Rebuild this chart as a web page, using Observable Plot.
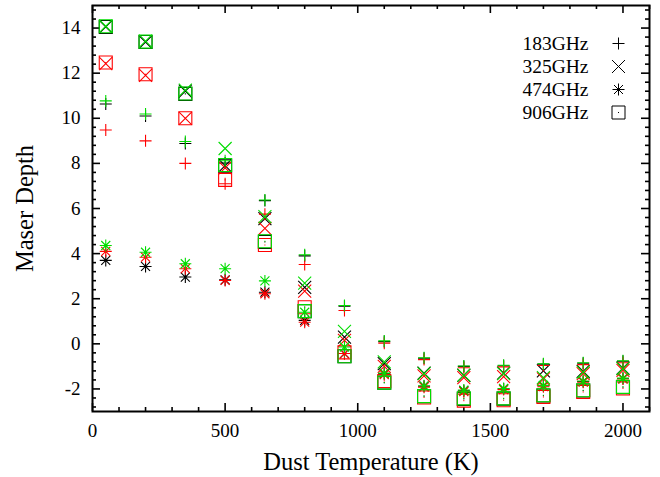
<!DOCTYPE html>
<html><head><meta charset="utf-8">
<script src="https://cdn.jsdelivr.net/npm/d3@7"></script>
<script src="https://cdn.jsdelivr.net/npm/@observablehq/plot@0.6"></script>
<style>body{margin:0;background:#fff} #chart svg{display:block}</style>
</head><body><div id="chart"></div>
<script>
// Dust temperatures (K)
const temperatures = [50, 200, 350, 500, 650, 800, 950, 1100, 1250, 1400, 1550, 1700, 1850, 2000];
const freqLabels = ["183GHz", "325GHz", "474GHz", "906GHz"];
const modelNames = ["black", "red", "green"];
const modelColors = ["#000000", "#ff0000", "#00dd00"];

// Maser depth — black series
const black183 = [10.63, 10.10, 8.88, 8.02, 6.35, 3.90, 1.67, 0.10, -0.64, -1.00, -0.97, -0.90, -0.86, -0.77];
const black325 = [14.05, 13.38, 11.20, 7.90, 5.55, 2.50, 0.30, -0.88, -1.30, -1.40, -1.30, -1.20, -1.22, -1.08];
const black474 = [3.70, 3.43, 2.96, 2.84, 2.29, 1.04, -0.43, -1.32, -1.88, -2.08, -2.00, -1.86, -1.67, -1.54];
const black906 = [14.05, 13.38, 11.08, 7.90, 4.52, 1.45, -0.55, -1.72, -2.32, -2.44, -2.43, -2.29, -2.07, -1.92];
// red series
const red183 = [9.48, 9.00, 8.00, 7.10, 5.75, 3.52, 1.48, 0.03, -0.70, -1.06, -1.02, -0.96, -0.92, -0.84];
const red325 = [12.42, 11.90, 10.00, 7.80, 5.12, 2.34, 0.15, -1.00, -1.42, -1.50, -1.45, -1.55, -1.32, -1.18];
const red474 = [4.10, 3.84, 3.33, 2.81, 2.22, 0.96, -0.43, -1.36, -1.92, -2.12, -2.03, -1.90, -1.70, -1.56];
const red906 = [12.47, 11.95, 10.00, 7.27, 4.38, 1.62, -0.38, -1.65, -2.38, -2.52, -2.50, -2.35, -2.13, -1.98];
// green series
const green183 = [10.77, 10.19, 8.97, 8.12, 6.38, 3.95, 1.70, 0.13, -0.62, -0.98, -0.95, -0.88, -0.84, -0.75];
const green325 = [14.08, 13.42, 11.25, 8.66, 5.64, 2.69, 0.55, -0.80, -1.32, -1.39, -1.32, -1.50, -1.25, -1.10];
const green474 = [4.36, 4.06, 3.55, 3.33, 2.79, 1.40, -0.14, -1.30, -1.86, -2.05, -1.98, -1.84, -1.65, -1.52];
const green906 = [14.08, 13.40, 11.10, 7.93, 4.55, 1.45, -0.55, -1.72, -2.32, -2.42, -2.42, -2.28, -2.06, -1.91];

const xTicks = [0, 500, 1000, 1500, 2000];
const yTicks = [-2, 0, 2, 4, 6, 8, 10, 12, 14];

const seriesByModel = [
  [black183, black325, black474, black906],
  [red183, red325, red474, red906],
  [green183, green325, green474, green906]
];

// gnuplot-like point shapes (r = half size)
const rad = s => Math.sqrt(s / Math.PI);
const symPlus = {draw(c, s) { const r = rad(s); c.moveTo(-r, 0); c.lineTo(r, 0); c.moveTo(0, -r); c.lineTo(0, r); }};
const symTimes = {draw(c, s) { const r = rad(s); c.moveTo(-r, -r); c.lineTo(r, r); c.moveTo(-r, r); c.lineTo(r, -r); }};
const symStar = {draw(c, s) { const r = rad(s), q = r * 0.75; c.moveTo(-r, 0); c.lineTo(r, 0); c.moveTo(0, -r); c.lineTo(0, r); c.moveTo(-q, -q); c.lineTo(q, q); c.moveTo(-q, q); c.lineTo(q, -q); }};
const symSquare = {draw(c, s) { const r = rad(s); c.moveTo(-r, -r); c.lineTo(r, -r); c.lineTo(r, r); c.lineTo(-r, r); c.closePath(); c.moveTo(-0.5, 0); c.lineTo(0.5, 0); }};
const symbols = [symPlus, symTimes, symStar, symSquare];
const sizes = [6, 6.5, 6, 6.5];

const rows = [];
seriesByModel.forEach((series, m) => series.forEach((vals, f) => vals.forEach((v, i) => rows.push({t: temperatures[i], v, model: m, freq: f}))));

const W = 660, H = 477, mL = 92, mR = 11, mT = 5, mB = 66;
const innerW = W - mL - mR, innerH = H - mT - mB;
const xMinor = d3.range(0, 2101, 100).filter(v => v % 500 !== 0);
const yMinor = d3.range(-7, 38).map(k => Math.round(k * 0.4 * 10) / 10).filter(v => v > -3 && v < 15 && Math.abs(v % 2) > 1e-9);

const marks = [];
// inward ticks on four sides
const tk = (vals, len) => [
  Plot.tickX(vals, {x: d => d, insetTop: innerH - len, strokeWidth: 1.6}),
  Plot.tickX(vals, {x: d => d, insetBottom: innerH - len, strokeWidth: 1.6})
];
const tky = (vals, len) => [
  Plot.tickY(vals, {y: d => d, insetRight: innerW - len, strokeWidth: 1.6}),
  Plot.tickY(vals, {y: d => d, insetLeft: innerW - len, strokeWidth: 1.6})
];
marks.push(...tk(xTicks, 8), ...tk(xMinor, 4), ...tky(yTicks, 8), ...tky(yMinor, 4));

// data points: black, then red, then green on top
modelNames.forEach((name, m) => {
  symbols.forEach((sym, f) => {
    marks.push(Plot.dot(rows.filter(d => d.model === m && d.freq === f), {
      x: "t", y: "v", symbol: sym, r: sizes[f], stroke: modelColors[m], strokeWidth: 1.1
    }));
  });
});

marks.push(Plot.frame({strokeWidth: 2}));
marks.push(Plot.axisX(xTicks, {tickSize: 0, tickPadding: 12, fontSize: 19, label: null, tickFormat: d => String(d)}));
marks.push(Plot.axisY(yTicks, {tickSize: 0, tickPadding: 12, fontSize: 19, label: null, tickFormat: d => String(d)}));
marks.push(Plot.text(["Dust Temperature (K)"], {text: d => d, frameAnchor: "bottom", dy: 51, fontSize: 24.5, textAnchor: "middle", lineAnchor: "middle"}));
marks.push(Plot.text(["Maser Depth"], {text: d => d, frameAnchor: "left", dx: -67, rotate: -90, fontSize: 24.5, textAnchor: "middle", lineAnchor: "middle"}));

// key
freqLabels.forEach((lab, i) => {
  marks.push(Plot.text([lab], {text: d => d, frameAnchor: "top-right", dx: -61, dy: 38 + 23 * i, textAnchor: "end", lineAnchor: "middle", fontSize: 19.5}));
  marks.push(Plot.dot([lab], {frameAnchor: "top-right", dx: -31, dy: 38 + 23 * i, symbol: symbols[i], r: sizes[i], stroke: "#000", strokeWidth: 1}));
});

const chart = Plot.plot({
  width: W, height: H,
  marginLeft: mL, marginRight: mR, marginTop: mT, marginBottom: mB,
  style: {fontFamily: "'Liberation Serif', 'DejaVu Serif', serif", fontSize: "19px", background: "#fff", color: "#000"},
  x: {domain: [0, 2100]},
  y: {domain: [-3, 15]},
  marks
});
document.getElementById("chart").appendChild(chart);
</script>
</body></html>
